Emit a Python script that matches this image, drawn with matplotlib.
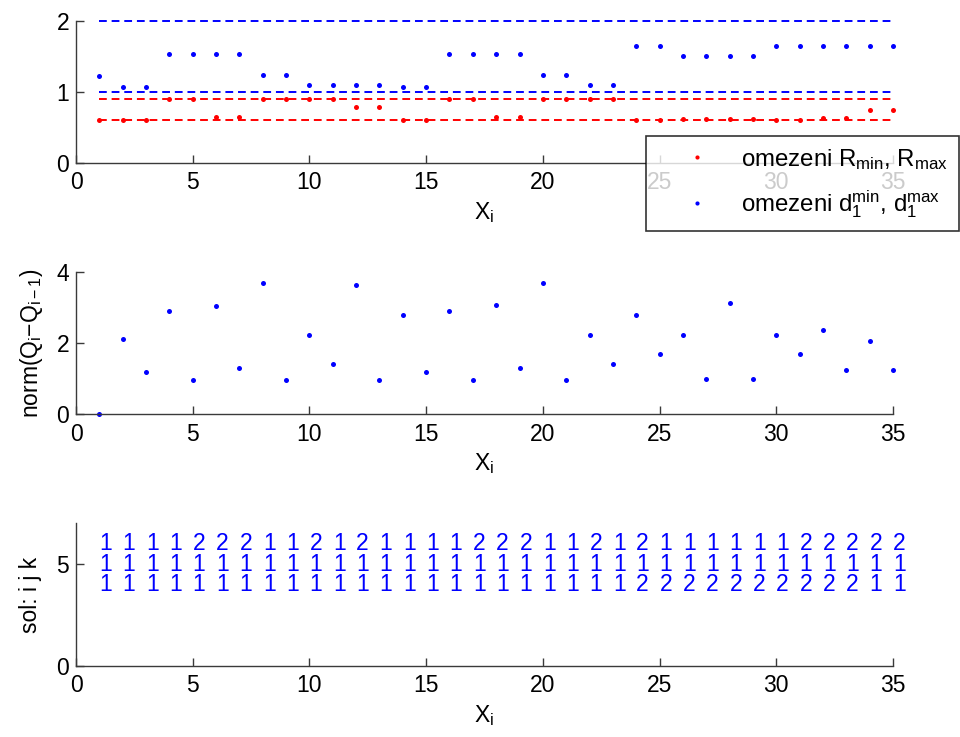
import matplotlib
matplotlib.use('Agg')
import matplotlib.pyplot as plt
from matplotlib.lines import Line2D
import numpy as np

plt.rcParams['font.family'] = ['Liberation Sans', 'DejaVu Sans']
plt.rcParams['mathtext.fontset'] = 'custom'
plt.rcParams['mathtext.rm'] = 'Liberation Sans'
plt.rcParams['mathtext.it'] = 'Liberation Sans:italic'
plt.rcParams['mathtext.default'] = 'regular'

# x positions 1..35
x_idx = list(range(1, 36))

# top panel: constraint values
d1_vals = [1.22, 1.07, 1.07, 1.53, 1.53, 1.53, 1.53, 1.235, 1.235, 1.10,
           1.10, 1.10, 1.10, 1.07, 1.07, 1.53, 1.53, 1.53, 1.53, 1.235,
           1.235, 1.10, 1.10, 1.64, 1.64, 1.50, 1.50, 1.50, 1.50, 1.64,
           1.64, 1.64, 1.64, 1.64, 1.64]
r_vals = [0.60, 0.60, 0.60, 0.90, 0.90, 0.65, 0.65, 0.90, 0.90, 0.90,
          0.90, 0.79, 0.79, 0.60, 0.60, 0.90, 0.90, 0.65, 0.65, 0.90,
          0.90, 0.90, 0.90, 0.60, 0.60, 0.62, 0.62, 0.62, 0.62, 0.60,
          0.60, 0.63, 0.63, 0.74, 0.74]
d1_limits = [1.0, 2.0]
r_limits = [0.6, 0.9]

# middle panel: norm(Q_i - Q_{i-1})
norm_vals = [0.0, 2.10, 1.19, 2.91, 0.95, 3.03, 1.29, 3.67, 0.95, 2.23,
             1.41, 3.63, 0.97, 2.80, 1.19, 2.91, 0.95, 3.07, 1.29, 3.67,
             0.95, 2.23, 1.41, 2.80, 1.70, 2.22, 0.98, 3.12, 0.98, 2.22,
             1.70, 2.36, 1.23, 2.07, 1.23]

# bottom panel: solution indices (rows drawn at y = 6, 5, 4)
sol_top = [1, 1, 1, 1, 2, 2, 2, 1, 1, 2, 1, 2, 1, 1, 1, 1, 2, 2,
           2, 1, 1, 2, 1, 2, 1, 1, 1, 1, 1, 1, 2, 2, 2, 2, 2]
sol_mid = [1] * 35
sol_bot = [1] * 23 + [2] * 10 + [1, 1]
sol_rows = [6, 5, 4]

FS = 16.5
dash = (4, 2.5)


def style_axes(ax, ylim, yticks):
    ax.set_xlim(0, 35)
    ax.set_ylim(*ylim)
    ax.set_xticks(range(0, 36, 5))
    ax.set_yticks(yticks)
    ax.spines['top'].set_visible(False)
    ax.spines['right'].set_visible(False)
    for s in ['left', 'bottom']:
        ax.spines[s].set_color('#3a3a3a')
        ax.spines[s].set_linewidth(1.0)
    ax.tick_params(direction='in', length=6, width=1.0, colors='#3a3a3a',
                   labelcolor='black', labelsize=FS)
    ax.tick_params(axis='x', pad=6)
    ax.tick_params(axis='y', pad=5)
    ax.set_xlabel('X$_i$', fontsize=FS, labelpad=4)


fig = plt.figure(figsize=(9.6, 7.37), dpi=100)

ax1 = fig.add_axes([0.0792, 0.7788, 0.851, 0.1931])
ax2 = fig.add_axes([0.0792, 0.4378, 0.851, 0.1935])
ax3 = fig.add_axes([0.0792, 0.0967, 0.851, 0.1930])

# --- top ---
for v in d1_limits:
    ax1.plot([1, 35], [v, v], color='#0000ff', lw=1.4, dashes=dash, clip_on=False)
for v in r_limits:
    ax1.plot([1, 35], [v, v], color='#ff0000', lw=1.4, dashes=dash, clip_on=False)
ax1.plot(x_idx, r_vals, 'o', color='#ff0000', ms=3.6, mec='none', clip_on=False)
ax1.plot(x_idx, d1_vals, 'o', color='#0000ff', ms=3.6, mec='none', clip_on=False)
style_axes(ax1, (0, 2), [0, 1, 2])

handles = [Line2D([], [], ls='none', marker='o', color='#ff0000', ms=3.0, mec='none'),
           Line2D([], [], ls='none', marker='o', color='#0000ff', ms=3.0, mec='none')]
labels = ['omezeni R$_{min}$, R$_{max}$', 'omezeni d$_1^{min}$, d$_1^{max}$']
leg = fig.legend(handles, labels, loc='upper left',
                 bbox_to_anchor=(646 / 960, 1 - 136 / 737),
                 fontsize=17.3, frameon=True, fancybox=False,
                 edgecolor='black', handlelength=3.35, handletextpad=0.15,
                 borderpad=0.45, labelspacing=0.7, borderaxespad=0)
leg.get_frame().set_linewidth(1.2)

# --- middle ---
ax2.plot(x_idx, norm_vals, 'o', color='#0000ff', ms=3.6, mec='none', clip_on=False)
style_axes(ax2, (0, 4), [0, 2, 4])
ax2.set_ylabel('norm(Q$_i$\u2212Q$_{i\u22121}$)', fontsize=FS, labelpad=8)

# --- bottom ---
for row_y, row in zip(sol_rows, [sol_top, sol_mid, sol_bot]):
    for xi, val in zip(x_idx, row):
        ax3.text(xi, row_y, str(val), color='#0000ff', fontsize=FS,
                 ha='left', va='center')
style_axes(ax3, (0, 7), [0, 5])
ax3.set_ylabel('sol: i j k', fontsize=FS, labelpad=10)

fig.savefig('out.png', dpi=100)
